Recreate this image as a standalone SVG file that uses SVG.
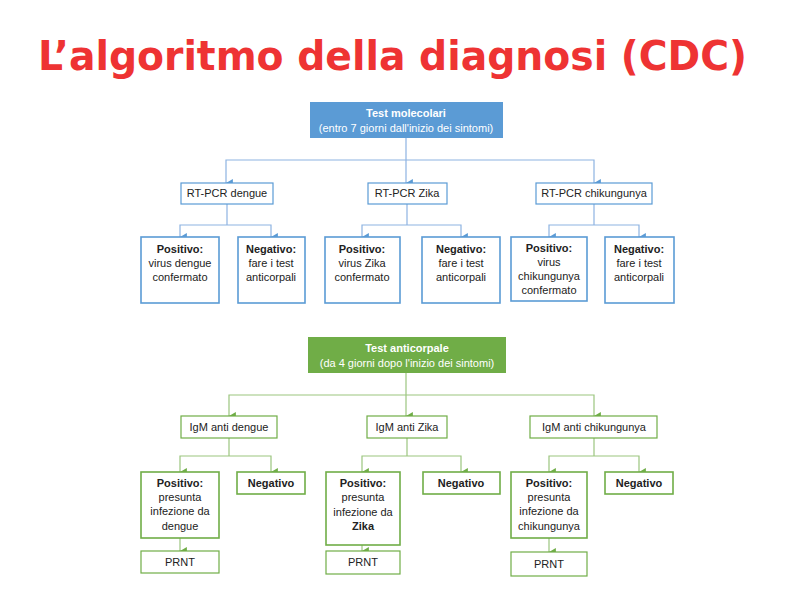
<svg xmlns="http://www.w3.org/2000/svg" width="794" height="595" viewBox="0 0 794 595">
<defs>
<marker id="ab" markerUnits="userSpaceOnUse" markerWidth="8" markerHeight="8" refX="3.5" refY="6" orient="auto-start-reverse" viewBox="0 0 7 6">
<path d="M0,0 L7,0 L3.5,6 Z" fill="#5b9bd5"/>
</marker>
<marker id="ag" markerUnits="userSpaceOnUse" markerWidth="8" markerHeight="8" refX="3.5" refY="6" orient="auto-start-reverse" viewBox="0 0 7 6">
<path d="M0,0 L7,0 L3.5,6 Z" fill="#70ad47"/>
</marker>
</defs>
<style>
.t{font-family:"Liberation Sans",Arial,sans-serif;font-size:11px;fill:#222;text-anchor:middle}
.b{font-weight:bold}
.w{fill:#fff}
.bb{fill:#fff;stroke:#5b9bd5;stroke-width:1.2}
.bb2{fill:#fff;stroke:#5b9bd5;stroke-width:1.6}
.gb{fill:#fff;stroke:#70ad47;stroke-width:1.2}
.gb2{fill:#fff;stroke:#70ad47;stroke-width:1.6}
.cb{fill:none;stroke:#8db3e2;stroke-width:1.2}
.cg{fill:none;stroke:#9bc57f;stroke-width:1.2}
</style>
<rect width="794" height="595" fill="#fff"/>
<text x="38" y="70" textLength="709" lengthAdjust="spacingAndGlyphs" style="font-family:'DejaVu Sans',Verdana,sans-serif;font-weight:bold;font-size:40px;fill:#ee3333">L’algoritmo della diagnosi (CDC)</text>

<g id="connectors">
<path class="cb" d="M406,138 V183" marker-end="url(#ab)"/>
<path class="cb" d="M226,183 V160 H594 V183" marker-start="url(#ab)" marker-end="url(#ab)"/>
<path class="cb" d="M227,204 V225"/>
<path class="cb" d="M180,237 V225 H271 V237" marker-start="url(#ab)" marker-end="url(#ab)"/>
<path class="cb" d="M407,204 V225"/>
<path class="cb" d="M362,237 V225 H461 V237" marker-start="url(#ab)" marker-end="url(#ab)"/>
<path class="cb" d="M594,204 V225"/>
<path class="cb" d="M549,237 V225 H639 V237" marker-start="url(#ab)" marker-end="url(#ab)"/>

<path class="cg" d="M406,373 V416" marker-end="url(#ag)"/>
<path class="cg" d="M229,416 V395 H594 V416" marker-start="url(#ag)" marker-end="url(#ag)"/>
<path class="cg" d="M229,438 V456"/>
<path class="cg" d="M180,472 V456 H271 V472" marker-start="url(#ag)" marker-end="url(#ag)"/>
<path class="cg" d="M407,438 V456"/>
<path class="cg" d="M362,472 V456 H461 V472" marker-start="url(#ag)" marker-end="url(#ag)"/>
<path class="cg" d="M594,438 V456"/>
<path class="cg" d="M549,472 V456 H639 V472" marker-start="url(#ag)" marker-end="url(#ag)"/>
<path class="cg" d="M180,538 V551" marker-end="url(#ag)"/>
<path class="cg" d="M362,545 V551" marker-end="url(#ag)"/>
<path class="cg" d="M549,538 V552" marker-end="url(#ag)"/>
</g>

<g id="test-molecolari">
<rect x="310" y="102" width="193" height="36" fill="#5b9bd5"/>
<text class="t b w" x="406" y="117">Test molecolari</text>
<text class="t w" x="406" y="132">(entro 7 giorni dall'inizio dei sintomi)</text>
</g>
<g id="rtpcr-dengue"><rect class="bb" x="181" y="183" width="92" height="21"/><text class="t" x="227" y="197">RT-PCR dengue</text></g>
<g id="rtpcr-zika"><rect class="bb" x="368" y="183" width="79" height="21"/><text class="t" x="407" y="197">RT-PCR Zika</text></g>
<g id="rtpcr-chik"><rect class="bb" x="536" y="183" width="116" height="21"/><text class="t" x="594" y="197">RT-PCR chikungunya</text></g>

<g id="pos-dengue-m"><rect class="bb2" x="141" y="237" width="78" height="66"/>
<text class="t b" x="180" y="253">Positivo:</text><text class="t" x="180" y="267">virus dengue</text><text class="t" x="180" y="281">confermato</text></g>
<g id="neg-dengue-m"><rect class="bb2" x="238" y="237" width="67" height="66"/>
<text class="t b" x="271" y="253">Negativo:</text><text class="t" x="271" y="267">fare i test</text><text class="t" x="271" y="281">anticorpali</text></g>
<g id="pos-zika-m"><rect class="bb2" x="325" y="237" width="75" height="66"/>
<text class="t b" x="362" y="253">Positivo:</text><text class="t" x="362" y="267">virus Zika</text><text class="t" x="362" y="281">confermato</text></g>
<g id="neg-zika-m"><rect class="bb2" x="422" y="237" width="78" height="66"/>
<text class="t b" x="461" y="253">Negativo:</text><text class="t" x="461" y="267">fare i test</text><text class="t" x="461" y="281">anticorpali</text></g>
<g id="pos-chik-m"><rect class="bb2" x="511" y="237" width="76" height="64"/>
<text class="t b" x="549" y="252">Positivo:</text><text class="t" x="549" y="266">virus</text><text class="t" x="549" y="280">chikungunya</text><text class="t" x="549" y="294">confermato</text></g>
<g id="neg-chik-m"><rect class="bb2" x="605" y="237" width="69" height="66"/>
<text class="t b" x="639" y="253">Negativo:</text><text class="t" x="639" y="267">fare i test</text><text class="t" x="639" y="281">anticorpali</text></g>

<g id="test-anticorpale">
<rect x="308" y="337" width="198" height="36" fill="#70ad47"/>
<text class="t b w" x="407" y="352">Test anticorpale</text>
<text class="t w" x="407" y="367">(da 4 giorni dopo l'inizio dei sintomi)</text>
</g>
<g id="igm-dengue"><rect class="gb" x="181" y="416" width="96" height="22"/><text class="t" x="229" y="431">IgM anti dengue</text></g>
<g id="igm-zika"><rect class="gb" x="367" y="416" width="80" height="22"/><text class="t" x="407" y="431">IgM anti Zika</text></g>
<g id="igm-chik"><rect class="gb" x="530" y="416" width="127" height="22"/><text class="t" x="594" y="431">IgM anti chikungunya</text></g>

<g id="pos-dengue-a"><rect class="gb2" x="141" y="472" width="78" height="66"/>
<text class="t b" x="180" y="487">Positivo:</text><text class="t" x="180" y="501">presunta</text><text class="t" x="180" y="515">infezione da</text><text class="t" x="180" y="530">dengue</text></g>
<g id="neg-dengue-a"><rect class="gb2" x="237" y="472" width="68" height="22"/><text class="t b" x="271" y="487">Negativo</text></g>
<g id="pos-zika-a"><rect class="gb2" x="326" y="472" width="74" height="73"/>
<text class="t b" x="363" y="487">Positivo:</text><text class="t" x="363" y="501">presunta</text><text class="t" x="363" y="516">infezione da</text><text class="t b" x="363" y="530">Zika</text></g>
<g id="neg-zika-a"><rect class="gb2" x="423" y="472" width="77" height="22"/><text class="t b" x="461" y="487">Negativo</text></g>
<g id="pos-chik-a"><rect class="gb2" x="511" y="472" width="76" height="66"/>
<text class="t b" x="549" y="487">Positivo:</text><text class="t" x="549" y="501">presunta</text><text class="t" x="549" y="515">infezione da</text><text class="t" x="549" y="530">chikungunya</text></g>
<g id="neg-chik-a"><rect class="gb2" x="605" y="472" width="68" height="22"/><text class="t b" x="639" y="487">Negativo</text></g>

<g id="prnt-dengue"><rect class="gb" x="141" y="551" width="78" height="22"/><text class="t" x="180" y="566">PRNT</text></g>
<g id="prnt-zika"><rect class="gb" x="326" y="551" width="74" height="23"/><text class="t" x="363" y="566">PRNT</text></g>
<g id="prnt-chik"><rect class="gb" x="511" y="552" width="76" height="24"/><text class="t" x="549" y="568">PRNT</text></g>
</svg>
